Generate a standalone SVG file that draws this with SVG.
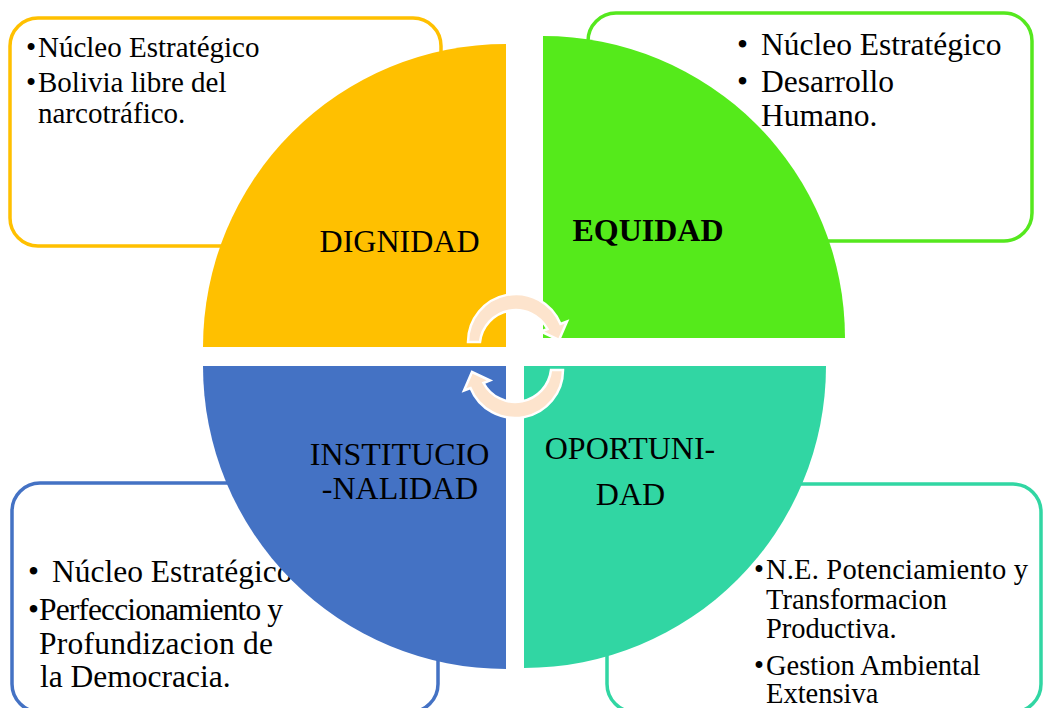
<svg xmlns="http://www.w3.org/2000/svg" width="1045" height="708" viewBox="0 0 1045 708">
  <style>
    .box { fill: #FFFFFF; stroke-width: 3.5; }
    .txt { font-family: "Liberation Serif", "Times New Roman", serif; fill: #000000; }
    .lbl { font-family: "Liberation Serif", "Times New Roman", serif; fill: #000000; font-size: 32px; text-anchor: middle; }
    .arrow { fill: #FDE4CD; stroke: #FFFFFF; stroke-width: 2.5; stroke-linejoin: miter; }
  </style>
  <rect x="0" y="0" width="1045" height="708" fill="#FFFFFF"/>

  <g id="node-dignidad">
    <rect class="box" x="10" y="18" width="431" height="228" rx="28" ry="28" stroke="#FFC000"/>
    <g class="txt" font-size="29">
      <text x="26" y="57">•</text>
      <text x="38" y="57">Núcleo Estratégico</text>
      <text x="26" y="92">•</text>
      <text x="38" y="92">Bolivia libre del</text>
      <text x="38" y="123">narcotráfico.</text>
    </g>
    <path d="M506,347 L203,347 A303,303 0 0 1 506,44 Z" fill="#FFC000"/>
    <text class="lbl" x="399.5" y="252">DIGNIDAD</text>
  </g>

  <g id="node-equidad">
    <rect class="box" x="588" y="13" width="444" height="228" rx="28" ry="28" stroke="#55E81E"/>
    <g class="txt" font-size="31.5">
      <text x="737" y="55">•</text>
      <text x="761" y="55">Núcleo Estratégico</text>
      <text x="737" y="92">•</text>
      <text x="761" y="92">Desarrollo</text>
      <text x="761" y="126">Humano.</text>
    </g>
    <path d="M543,338 L543,36 A302,302 0 0 1 845,338 Z" fill="#55EA1B"/>
    <text class="lbl" x="648" y="241" font-weight="bold">EQUIDAD</text>
  </g>

  <g id="node-institucionalidad">
    <rect class="box" x="12" y="483" width="426" height="229" rx="28" ry="28" stroke="#4472C4"/>
    <g class="txt" font-size="31.5">
      <text x="28" y="582">•</text>
      <text x="52" y="582">Núcleo Estratégico</text>
      <text x="28" y="620">•</text>
      <text x="39" y="620" textLength="244" lengthAdjust="spacing">Perfeccionamiento y</text>
      <text x="39" y="654" textLength="234" lengthAdjust="spacing">Profundizacion de</text>
      <text x="40" y="687">la Democracia.</text>
    </g>
    <path d="M506,366 L506,669 A303,303 0 0 1 203,366 Z" fill="#4472C4"/>
    <text class="lbl" x="399.5" y="465">INSTITUCIO</text>
    <text class="lbl" x="400" y="499">-NALIDAD</text>
  </g>

  <g id="node-oportunidad">
    <rect class="box" x="607" y="484" width="434" height="228" rx="28" ry="28" stroke="#31D6A3"/>
    <g class="txt" font-size="28.5">
      <text x="754" y="579">•</text>
      <text x="766" y="579" textLength="262" lengthAdjust="spacing">N.E. Potenciamiento y</text>
      <text x="766" y="609">Transformacion</text>
      <text x="766" y="638">Productiva.</text>
      <text x="754" y="675">•</text>
      <text x="766" y="675">Gestion Ambiental</text>
      <text x="766" y="703">Extensiva</text>
    </g>
    <path d="M524,366 L826,366 A302,302 0 0 1 524,668 Z" fill="#31D6A3"/>
    <text class="lbl" x="630" y="459">OPORTUNI-</text>
    <text class="lbl" x="630.5" y="505">DAD</text>
  </g>

  <g id="connectors">
    <path class="arrow" d="M468,342 A48,48 0 0 1 560.5,324 L567,321.5 L559,340 L541,331.5 L547.5,329 A36,36 0 0 0 480,342 Z"/>
    <path class="arrow" transform="rotate(180 515.5 356)" d="M468,342 A48,48 0 0 1 560.5,324 L567,321.5 L559,340 L541,331.5 L547.5,329 A36,36 0 0 0 480,342 Z"/>
  </g>
</svg>
